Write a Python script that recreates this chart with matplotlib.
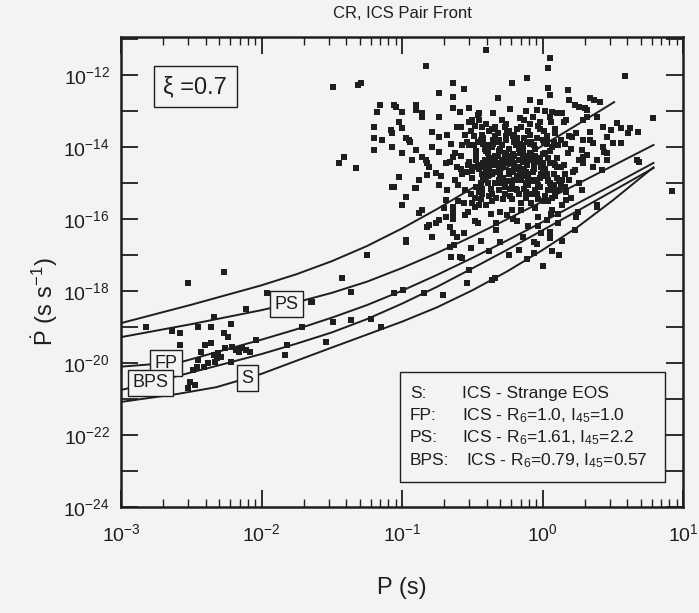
import numpy as np
import matplotlib
matplotlib.use('Agg')
import matplotlib.pyplot as plt
from matplotlib.ticker import LogLocator, NullLocator, NullFormatter
from matplotlib.patches import Rectangle

plt.rcParams['font.family'] = ['Liberation Sans', 'DejaVu Sans']
plt.rcParams['mathtext.fontset'] = 'custom'
plt.rcParams['mathtext.rm'] = 'Liberation Sans'
plt.rcParams['mathtext.it'] = 'Liberation Sans:italic'
plt.rcParams['mathtext.bf'] = 'Liberation Sans:bold'

INK = '#1e1e1e'
PAPER = '#f3f3f1'

# death lines, log10 P vs log10 Pdot
top_lp = [-3.0, -2.5, -2.0, -1.75, -1.5, -1.25, -1.0, -0.75, -0.5, -0.25, 0.0, 0.25, 0.51]
top_lpd = [-18.89, -18.38, -17.84, -17.53, -17.17, -16.75, -16.26, -15.72, -15.14, -14.56, -13.96, -13.37, -12.75]
ps_lp = [-3.0, -2.5, -2.0, -1.75, -1.5, -1.25, -1.0, -0.75, -0.5, -0.25, 0.0, 0.25, 0.5, 0.79]
ps_lpd = [-19.28, -18.92, -18.53, -18.31, -18.05, -17.74, -17.36, -16.94, -16.48, -16.00, -15.51, -15.02, -14.52, -13.94]
fp_lp = [-3.0, -2.57, -2.25, -2.0, -1.75, -1.5, -1.25, -1.0, -0.75, -0.5, -0.25, 0.0, 0.25, 0.5, 0.79]
fp_lpd = [-20.10, -19.97, -19.62, -19.35, -19.06, -18.74, -18.39, -17.99, -17.55, -17.08, -16.59, -16.08, -15.56, -15.05, -14.44]
bps_lp = [-3.0, -2.63, -2.32, -2.0, -1.75, -1.5, -1.25, -1.0, -0.75, -0.5, -0.25, 0.0, 0.25, 0.5, 0.79]
bps_lpd = [-20.75, -20.39, -20.08, -19.75, -19.46, -19.15, -18.78, -18.35, -17.88, -17.37, -16.85, -16.31, -15.77, -15.22, -14.58]
s_lp = [-3.0, -2.6, -2.32, -2.0, -1.74, -1.5, -1.25, -1.0, -0.75, -0.5, -0.25, 0.0, 0.25, 0.5, 0.79]
s_lpd = [-21.08, -20.86, -20.67, -20.30, -19.92, -19.57, -19.21, -18.85, -18.45, -17.98, -17.45, -16.86, -16.22, -15.48, -14.56]

# pulsars: short-period group
msp_lp = [-2.52, -2.27, -1.96, -2.82, -2.64, -2.58, -2.45, -2.34, -2.36, -2.22, -2.11, -2.27,
          -2.24, -2.58, -2.40, -2.43, -2.34, -2.31, -2.29, -2.21, -2.18, -2.11, -2.04, -2.08,
          -2.46, -2.41, -2.38, -2.33, -2.22, -2.49, -2.51, -2.47, -2.52, -1.82, -1.83, -1.71,
          -1.65, -2.36, -2.32, -2.45, -2.26, -2.16, -2.14]
msp_lpd = [-17.78, -17.47, -18.06, -19.00, -19.11, -19.17, -19.00, -18.72, -19.00, -18.92, -18.50, -19.17,
           -19.28, -19.50, -19.50, -19.69, -19.78, -19.72, -19.83, -19.56, -19.64, -19.64, -19.36, -19.69,
           -20.11, -20.11, -20.00, -19.97, -19.97, -20.19, -20.53, -20.61, -20.69, -19.50, -19.78, -19.00,
           -18.31, -19.44, -19.86, -19.92, -19.58, -19.69, -19.58]

# pulsars: intermediate, scattered below the main clump
mid_lp = [-1.25, -1.43, -1.36, -1.64, -1.06, -0.99, -1.49, -1.36, -1.22, -1.15, -1.54, -0.97,
          -1.07, -0.97, -0.91, -1.00, -0.88, -0.76, -0.82, -0.79, -0.65, -0.57, -0.52, -0.63,
          -0.34, -0.36, -0.84, -0.71, -0.54, 0.39, 0.03, 0.07, -0.06, 0.05, 0.92, -1.45,
          -1.41, -1.33, -0.86, -0.74, -0.81, -0.79, -0.97, -0.61, -0.66, -0.64, -0.69, -0.69,
          -0.64, -0.59, -0.64, -0.66, 0.25, 0.39, 0.26, 0.17, 0.10]
mid_lpd = [-17.00, -17.64, -18.03, -18.31, -18.06, -17.97, -18.86, -18.81, -18.78, -19.00, -19.42, -16.58,
           -15.11, -15.39, -15.14, -15.61, -15.83, -16.11, -16.22, -16.50, -17.06, -17.08, -17.42, -16.72,
           -17.64, -17.69, -18.06, -18.11, -17.78, -15.61, -16.03, -15.75, -16.64, -16.53, -15.22, -14.44,
           -14.28, -14.58, -15.75, -16.03, -16.17, -16.50, -16.64, -16.50, -16.22, -15.83, -15.47, -15.94,
           -15.67, -17.06, -16.39, -16.78, -15.81, -15.67, -15.00, -15.47, -15.19]

# pulsars: upper and outer parts of the population
outer_lp = [-0.40, 0.05, 0.04, -0.83, -1.29, 0.59, 0.79, -0.22, -0.11, -0.64, -0.56, -0.74,
            -0.64, -0.32, -0.09, -0.02, 0.04, 0.05, 0.18, 0.19, 0.26, 0.34, 0.37, 0.32,
            -1.49, -1.31, -1.16, -1.18, -1.06, -1.00, -0.90, -0.86, -1.20, -1.08, -1.02, -1.20,
            -1.14, -1.07, -0.97, -0.94, -1.20, -1.00, -0.90, -0.93, -0.83, -1.02, -1.06, -0.90,
            -0.88, -0.82, -0.79, -0.74, -0.79, -0.74, -0.81, -0.74, -0.69, -0.64, -0.61, -0.74,
            -0.64, -0.59, -0.52, -0.45, -0.50, -0.43, -0.61, -1.04, -1.07, -1.00, -0.95, -0.90,
            -0.86, -0.86, -0.82, -0.76, 0.53, 0.56, 0.49, 0.61, 0.68, 0.46, 0.50, 0.56,
            0.44, 0.46, 0.69, 0.34, 0.36, 0.29, 0.21, 0.17, 0.14, 0.23, 0.30, 0.32,
            0.41, 0.07, 0.28, 0.32, 0.36, 0.29, 0.23, 0.42, 0.26, 0.19, 0.12, 0.67,
            0.62, 0.43, 0.46, 0.39, 0.29, 0.34, 0.24, 0.29, 0.39, 0.43, 0.10, 0.05, -0.04]
outer_lpd = [-11.31, -11.53, -11.81, -11.75, -12.22, -12.03, -13.19, -12.22, -12.08, -12.22, -12.39, -12.50,
             -12.61, -12.64, -12.69, -12.75, -12.36, -12.56, -12.42, -12.69, -12.89, -12.64, -12.69, -12.97,
             -12.33, -12.28, -12.83, -13.03, -12.83, -13.03, -12.83, -13.06, -13.44, -13.53, -13.31, -13.75,
             -13.81, -14.00, -13.75, -13.86, -14.08, -14.17, -14.08, -14.36, -14.36, -14.83, -15.11, -15.14,
             -14.92, -14.78, -13.58, -13.72, -14.00, -14.14, -14.56, -15.06, -14.44, -14.28, -14.56, -13.17,
             -12.92, -13.03, -12.92, -13.06, -13.25, -13.44, -13.44, -12.89, -13.61, -13.47, -13.81, -12.97,
             -13.17, -14.28, -14.44, -14.72, -13.33, -13.47, -13.53, -13.61, -13.58, -13.72, -13.89, -13.89,
             -14.14, -14.36, -14.42, -13.58, -13.89, -13.81, -13.72, -13.25, -13.06, -12.83, -12.92, -13.17,
             -12.75, -13.03, -14.08, -14.22, -14.56, -14.44, -14.64, -14.64, -15.00, -14.92, -14.56, -14.36,
             -13.47, -14.00, -14.17, -14.36, -14.28, -13.81, -13.61, -13.25, -13.17, -13.44, -13.06, -13.17, -12.97]

# pulsars: the dense clump around P ~ 0.3-1.5 s
core_lp = [-0.62, -0.58, -0.55, -0.52, -0.50, -0.48, -0.47, -0.45, -0.44, -0.42, -0.41, -0.40,
           -0.39, -0.37, -0.36, -0.35, -0.34, -0.33, -0.32, -0.31, -0.30, -0.29, -0.28, -0.27,
           -0.26, -0.25, -0.24, -0.23, -0.22, -0.21, -0.20, -0.19, -0.18, -0.17, -0.16, -0.15,
           -0.14, -0.13, -0.12, -0.11, -0.10, -0.09, -0.08, -0.07, -0.06, -0.05, -0.04, -0.03,
           -0.02, -0.01, 0.00, 0.01, 0.02, 0.03, 0.04, 0.05, 0.06, 0.07, 0.08, 0.09,
           0.10, 0.11, 0.12, 0.13, 0.14, 0.15, 0.16, 0.18, 0.20, 0.22, 0.24, 0.26,
           0.28, -0.66, -0.68, -0.60, -0.57, -0.53, -0.49, -0.46, -0.43, -0.38, -0.33, -0.27,
           -0.22, -0.18, -0.14, -0.09, -0.04, 0.01, 0.05, 0.09, 0.14, 0.19, 0.23, -0.72,
           -0.70, -0.64, -0.56, -0.51, -0.44, -0.38, -0.30, -0.24, -0.17, -0.11, -0.06, 0.00,
           0.07, 0.12, -0.52, -0.46, -0.40, -0.35, -0.29, -0.23, -0.16, -0.12, -0.07, -0.02,
           0.02, -0.43, -0.38, -0.34, -0.30, -0.26, -0.21, -0.17, -0.13, -0.10, -0.06, -0.01,
           0.03, -0.36, -0.28, -0.19, -0.12, -0.05, 0.02, 0.08, -0.47, -0.40, -0.31, -0.24,
           -0.14, -0.08, 0.05,
           -0.58, -0.54, -0.50, -0.47, -0.44, -0.41, -0.38, -0.35, -0.32, -0.29, -0.26, -0.23,
           -0.20, -0.17, -0.14, -0.11, -0.08, -0.05, -0.02, 0.01, 0.04, 0.07, 0.10, 0.13,
           -0.56, -0.48, -0.37, -0.25, -0.15, -0.03,
           -0.60, -0.53, -0.49, -0.45, -0.42, -0.39, -0.36, -0.33, -0.30, -0.27, -0.24, -0.21,
           -0.18, -0.15, -0.12, -0.09, -0.06, -0.03, 0.00, 0.03, 0.06, 0.09, 0.12, 0.16,
           -0.51, -0.43, -0.32, -0.20, -0.10, 0.00,
           -0.46, -0.42, -0.38, -0.34, -0.30, -0.26, -0.22, -0.18, -0.14, -0.10, -0.06, -0.02,
           -0.44, -0.36, -0.28, -0.20, -0.12, -0.04, 0.04, -0.40, -0.32, -0.24, -0.16, -0.08, 0.00]
core_lpd = [-14.90, -14.60, -15.20, -14.40, -14.85, -15.40, -14.10, -14.60, -15.00, -13.90, -14.35, -15.60,
            -14.80, -15.15, -14.00, -14.50, -13.70, -15.40, -14.25, -14.90, -15.80, -13.95, -14.55, -15.10,
            -14.15, -13.60, -14.75, -15.35, -14.40, -16.00, -13.85, -14.60, -15.20, -14.05, -14.90, -15.55,
            -14.30, -13.75, -15.00, -14.50, -16.20, -14.15, -15.30, -14.70, -13.95, -15.70, -14.40, -15.05,
            -14.85, -16.40, -14.20, -15.50, -14.60, -13.90, -15.20, -14.45, -15.85, -14.00, -14.75, -15.35,
            -14.30, -16.10, -14.95, -13.80, -15.60, -14.50, -15.10, -14.15, -15.40, -14.70, -15.95, -14.35,
            -15.20, -14.40, -15.20, -15.50, -13.95, -15.80, -13.70, -16.10, -15.30, -13.55, -16.30, -13.45,
            -15.75, -13.50, -16.50, -13.35, -16.70, -13.55, -16.35, -13.60, -16.60, -13.70, -16.30, -14.80,
            -15.70, -16.00, -16.40, -16.80, -16.60, -16.90, -16.65, -17.00, -16.85, -17.10, -16.95, -17.30,
            -16.90, -17.00, -13.30, -13.10, -13.35, -13.05, -13.25, -12.95, -13.20, -13.00, -13.15, -13.30,
            -13.00, -14.75, -14.45, -15.00, -14.65, -14.95, -14.70, -14.35, -14.60, -14.85, -14.45, -14.55,
            -14.75, -15.30, -15.45, -15.15, -15.40, -15.20, -15.35, -15.05, -15.10, -14.10, -14.10, -14.25,
            -14.10, -13.85, -14.10,
            -14.25, -13.85, -14.65, -14.20, -13.80, -14.90, -14.30, -13.90, -14.70, -14.35, -13.80, -14.95,
            -14.25, -14.55, -13.95, -14.75, -14.30, -14.05, -15.10, -14.65, -14.30, -15.40, -14.85, -14.55,
            -15.55, -15.65, -15.85, -15.90, -15.75, -15.95,
            -15.05, -14.50, -13.95, -15.25, -14.55, -14.15, -15.50, -14.45, -14.05, -15.30, -14.65, -14.20,
            -13.75, -14.85, -15.25, -13.90, -14.60, -15.45, -14.80, -13.75, -15.05, -14.50, -15.20, -14.75,
            -13.55, -13.65, -13.60, -13.65, -13.55, -13.80,
            -14.50, -14.85, -14.60, -14.25, -14.80, -14.45, -15.05, -14.80, -14.40, -15.05, -14.90, -14.30,
            -15.45, -14.75, -15.00, -14.45, -14.70, -14.95, -14.90, -13.95, -13.85, -14.05, -13.90, -14.20, -14.45]

# pulsars: the darkest middle of the clump
dense_lp = [-0.54, -0.51, -0.47, -0.43, -0.40, -0.37, -0.34, -0.31, -0.28, -0.25, -0.22, -0.19, -0.16,
            -0.13, -0.10, -0.07, -0.04, -0.01, 0.02, 0.05, 0.08, 0.11, 0.14, 0.17, 0.20,
            -0.52, -0.49, -0.45, -0.41, -0.38, -0.35, -0.32, -0.29, -0.26, -0.23, -0.20, -0.17, -0.14,
            -0.11, -0.08, -0.05, -0.02, 0.01, 0.04, 0.07, 0.10, 0.13, 0.16, -0.57, -0.62,
            -0.50, -0.46, -0.42, -0.39, -0.35, -0.31, -0.27, -0.24, -0.20, -0.16, -0.12, -0.08, -0.04,
            0.00, 0.04, 0.08, -0.55, -0.48, -0.33, -0.18, -0.03, 0.11, -0.65, -0.68, -0.58,
            -0.55, -0.48, -0.42, -0.36, -0.31, -0.26, -0.21, -0.15, -0.09, -0.03, 0.03, 0.09, 0.15,
            -0.45, -0.34, -0.24, -0.13, -0.02, 0.06]
dense_lpd = [-14.70, -15.30, -14.35, -15.15, -14.65, -13.95, -14.40, -15.20, -14.85, -14.30, -15.45, -13.95, -14.65,
             -15.15, -14.35, -14.95, -13.75, -14.75, -14.15, -15.00, -14.45, -13.95, -14.90, -15.25, -14.05,
             -13.95, -14.55, -15.60, -14.05, -15.35, -14.70, -15.00, -14.50, -13.70, -15.15, -14.60, -15.30, -14.80,
             -13.85, -15.55, -14.25, -14.40, -13.85, -14.95, -15.20, -14.55, -15.05, -13.90, -14.75, -14.15,
             -15.55, -13.85, -14.45, -15.00, -13.80, -14.55, -14.20, -14.95, -14.90, -14.15, -14.25, -14.95, -15.30,
             -14.70, -15.50, -13.85, -15.90, -16.05, -16.10, -16.05, -16.20, -15.85, -13.90, -13.65, -13.45,
             -13.65, -13.40, -13.75, -13.50, -13.80, -13.35, -13.70, -13.45, -13.65, -13.40, -13.70, -13.50, -13.30,
             -13.25, -13.45, -13.55, -13.25, -13.50, -13.30]

# legend rows
legend_keys = ['S:', 'FP:', 'PS:', 'BPS:']
legend_desc = ['ICS - Strange EOS',
               r'ICS - R$_6$=1.0, I$_{45}$=1.0',
               r'ICS - R$_6$=1.61, I$_{45}$=2.2',
               r'ICS - R$_6$=0.79, I$_{45}$=0.57']

fig = plt.figure(figsize=(6.99, 6.13), dpi=100, facecolor=PAPER)
ax = fig.add_axes([121 / 699, 1 - 507 / 613, 562 / 699, 470 / 613], facecolor=PAPER)
ax.set_xscale('log')
ax.set_yscale('log')

curves = [(top_lp, top_lpd, None, None),
          (ps_lp, ps_lpd, 'PS', -1.82),
          (fp_lp, fp_lpd, 'FP', -2.68),
          (bps_lp, bps_lpd, 'BPS', -2.79),
          (s_lp, s_lpd, 'S', -2.10)]
for lp, lpd, name, at in curves:
    ax.plot(10.0 ** np.array(lp), 10.0 ** np.array(lpd), color=INK, lw=1.4, zorder=3)
    if name:
        ax.text(10.0 ** at, 10.0 ** np.interp(at, lp, lpd), name, fontsize=13, color=INK,
                ha='center', va='center', zorder=5,
                bbox=dict(boxstyle='square,pad=0.25', facecolor=PAPER, edgecolor=INK, lw=1.0))

groups = [(msp_lp, msp_lpd), (mid_lp, mid_lpd), (outer_lp, outer_lpd),
          (core_lp, core_lpd), (dense_lp, dense_lpd)]
for lp, lpd in groups:
    ax.scatter(10.0 ** np.array(lp), 10.0 ** np.array(lpd), s=14, marker='s',
               color=INK, linewidths=0, zorder=4)

ax.set_xlim(1e-3, 10)
ax.set_ylim(1e-24, 10 ** -10.94)

exps = list(range(-24, -10))
ax.set_yticks([10.0 ** e for e in exps])
ax.set_yticklabels([f'$10^{{{e}}}$' if e % 2 == 0 else '' for e in exps])
ax.yaxis.set_minor_locator(NullLocator())
ax.set_xticks([1e-3, 1e-2, 1e-1, 1, 10])
ax.set_xticklabels(['$10^{-3}$', '$10^{-2}$', '$10^{-1}$', '$10^{0}$', '$10^{1}$'])
ax.xaxis.set_minor_locator(LogLocator(base=10, subs=np.arange(2, 10)))
ax.xaxis.set_minor_formatter(NullFormatter())

ax.tick_params(which='major', direction='in', length=12, width=1.3, top=True, right=True,
               labelsize=14, colors=INK)
ax.tick_params(which='minor', direction='in', length=6, width=1.0, top=True, right=True, colors=INK)
ax.tick_params(axis='x', pad=12)
ax.tick_params(axis='y', pad=8)
for sp in ax.spines.values():
    sp.set_linewidth(1.8)
    sp.set_color(INK)

ax.set_xlabel('P (s)', fontsize=17, color=INK)
ax.xaxis.set_label_coords(0.5, -0.149)
ax.set_ylabel(r'$\dot{\mathrm{P}}$ (s s$^{-1}$)', fontsize=17, color=INK)
ax.yaxis.set_label_coords(-0.108, 0.436)
ax.text(0.5, 1.051, 'CR, ICS Pair Front', transform=ax.transAxes, ha='center', va='center',
        fontsize=12, color=INK)

ax.text(0.132, 0.894, 'ξ =0.7', transform=ax.transAxes, ha='center', va='center', fontsize=17,
        color=INK, bbox=dict(boxstyle='square,pad=0.4', facecolor=PAPER, edgecolor=INK, lw=1.0))

ax.add_patch(Rectangle((0.496, 0.053), 0.472, 0.234, transform=ax.transAxes, facecolor=PAPER,
                       edgecolor=INK, lw=1.0, zorder=6))
for i, (k, d) in enumerate(zip(legend_keys, legend_desc)):
    y = 0.242 - i * 0.0475
    ax.text(0.514, y, k, transform=ax.transAxes, ha='left', va='center', fontsize=12.5, color=INK, zorder=7)
    ax.text(0.607 if k != 'BPS:' else 0.614, y, d, transform=ax.transAxes, ha='left', va='center',
            fontsize=12.5, color=INK, zorder=7)

fig.savefig('out.png', dpi=100, facecolor=PAPER)
